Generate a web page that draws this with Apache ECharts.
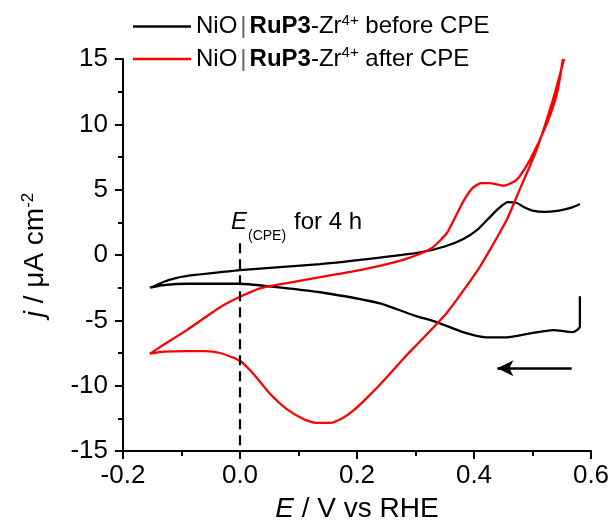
<!DOCTYPE html>
<html>
<head>
<meta charset="utf-8">
<script src="https://cdn.jsdelivr.net/npm/echarts@6/dist/echarts.min.js"></script>
<style>
  html, body { margin: 0; padding: 0; background: #fff; }
  #chart { width: 613px; height: 528px; }
</style>
</head>
<body>
<div id="chart"></div>
<script>
// E / V vs RHE, j / uA cm-2
const beforeCPE = [
  [0.581, -3.15], [0.581, -5.5], [0.569, -5.9], [0.535, -5.75], [0.496, -6.0],
  [0.456, -6.3], [0.422, -6.3], [0.381, -5.9], [0.337, -5.15], [0.296, -4.6],
  [0.239, -3.7], [0.137, -2.85], [0.05, -2.4], [0.0, -2.2], [-0.09, -2.2],
  [-0.13, -2.3], [-0.154, -2.5], [-0.142, -2.3], [-0.13, -2.05], [-0.113, -1.8],
  [-0.09, -1.6], [-0.04, -1.35], [0.0, -1.15], [0.137, -0.7], [0.239, -0.2],
  [0.308, 0.2], [0.35, 0.65], [0.381, 1.2], [0.405, 1.9], [0.425, 2.8],
  [0.443, 3.6], [0.458, 4.05], [0.472, 4.0], [0.486, 3.65], [0.5, 3.4],
  [0.52, 3.3], [0.545, 3.4], [0.565, 3.6], [0.581, 3.9]
];

const afterCPE = [
  [0.554, 15.0], [0.535, 11.9], [0.507, 8.05], [0.478, 5.0], [0.456, 2.7],
  [0.41, -0.9], [0.354, -4.4], [0.308, -6.6], [0.282, -7.8], [0.251, -9.35],
  [0.22, -10.8], [0.194, -11.9], [0.175, -12.5], [0.154, -12.85], [0.13, -12.85],
  [0.108, -12.55], [0.08, -11.8], [0.051, -10.6], [0.025, -9.2], [0.0, -8.1],
  [-0.034, -7.5], [-0.06, -7.35], [-0.091, -7.35], [-0.13, -7.4], [-0.154, -7.55],
  [-0.137, -7.05], [-0.091, -5.75], [-0.034, -4.0], [0.0, -3.2], [0.034, -2.55],
  [0.08, -2.15], [0.137, -1.7], [0.2, -1.2], [0.251, -0.7], [0.28, -0.35],
  [0.308, 0.1], [0.33, 0.6], [0.354, 1.7], [0.368, 2.9], [0.383, 4.2],
  [0.397, 5.1], [0.412, 5.5], [0.427, 5.5], [0.45, 5.3], [0.473, 5.75],
  [0.496, 7.3], [0.525, 10.1], [0.542, 12.4], [0.552, 15.0]
];

const seriesNames = ['before CPE', 'after CPE'];
const seriesColors = ['#000000', '#ff0000'];

// vertical dashed marker at E(CPE) and the scan-direction arrow
const cpeLine = [[0, 0.9], [0, -15]];
const scanArrow = [[0.567, -8.67], [0.44, -8.67]];

const FONT = '"Liberation Sans", Arial, sans-serif';

const chart = echarts.init(document.getElementById('chart'));

const axisCommon = {
  axisLine: { onZero: false, lineStyle: { color: '#000', width: 2 } },
  axisTick: { show: true, inside: false, length: 8, lineStyle: { color: '#000', width: 2 } },
  minorTick: { show: true, splitNumber: 2, length: 5, lineStyle: { color: '#000', width: 2 } },
  splitLine: { show: false },
  axisLabel: { color: '#000', fontSize: 26, fontFamily: FONT }
};

const nameRich = {
  i: { fontSize: 28, fontStyle: 'italic', fontFamily: FONT, color: '#000' },
  n: { fontSize: 28, fontFamily: FONT, color: '#000' },
  sup: { fontSize: 17, fontFamily: FONT, color: '#000', padding: [0, 0, 14, 0] }
};

const options = {
  animation: false,
  grid: { left: 123, right: 22, top: 59, bottom: 77, containLabel: false },
  legend: {
    orient: 'vertical',
    left: 133,
    top: 13,
    padding: 0,
    itemWidth: 58,
    itemHeight: 2.5,
    itemGap: 7,
    icon: 'rect',
    data: seriesNames,
    textStyle: {
      color: '#000',
      fontSize: 24,
      fontFamily: FONT,
      rich: {
        n: { fontSize: 24, fontFamily: FONT, color: '#000' },
        bar: { fontSize: 24, fontFamily: FONT, color: '#666', padding: [0, 3, 0, 3] },
        b: { fontSize: 24, fontFamily: FONT, fontWeight: 'bold', color: '#000' },
        sup: { fontSize: 15, fontFamily: FONT, color: '#000', padding: [0, 0, 12, 0] }
      }
    },
    formatter: (name) => `{n|NiO}{bar||}{b|RuP3}{n|-Zr}{sup|4+}{n| ${name}}`
  },
  xAxis: Object.assign({}, axisCommon, {
    type: 'value',
    min: -0.2,
    max: 0.6,
    interval: 0.2,
    name: '{i|E}{n| / V vs RHE}',
    nameLocation: 'middle',
    nameGap: 44,
    nameTextStyle: { rich: nameRich },
    axisLabel: Object.assign({}, axisCommon.axisLabel, {
      margin: 12,
      formatter: (v) => v.toFixed(1)
    })
  }),
  yAxis: Object.assign({}, axisCommon, {
    type: 'value',
    min: -15,
    max: 15,
    interval: 5,
    name: '{i|j}{n| / μA cm}{sup|-2}',
    nameLocation: 'middle',
    nameGap: 72,
    nameTextStyle: { rich: nameRich },
    axisLabel: Object.assign({}, axisCommon.axisLabel, { margin: 15 })
  }),
  graphic: [
    { type: 'text', left: 231, top: 210, style: { text: 'E', font: 'italic 24px ' + FONT, fill: '#000' } },
    { type: 'text', left: 248, top: 229, style: { text: '(CPE)', font: '14px ' + FONT, fill: '#000' } },
    { type: 'text', left: 294, top: 210, style: { text: 'for 4 h', font: '24px ' + FONT, fill: '#000' } }
  ],
  series: [
    {
      name: seriesNames[0],
      type: 'line',
      data: beforeCPE,
      symbol: 'none',
      showSymbol: false,
      smooth: 0.2,
      color: seriesColors[0],
      lineStyle: { color: seriesColors[0], width: 2.3 },
      markLine: {
        silent: true,
        label: { show: false },
        data: [
          [
            { coord: cpeLine[0], symbol: 'none', lineStyle: { type: [10, 6], color: '#000', width: 2.2 } },
            { coord: cpeLine[1], symbol: 'none' }
          ],
          [
            { coord: scanArrow[0], symbol: 'none', lineStyle: { type: 'solid', color: '#000', width: 2.5 } },
            { coord: scanArrow[1], symbol: 'arrow', symbolSize: [12, 16] }
          ]
        ]
      }
    },
    {
      name: seriesNames[1],
      type: 'line',
      data: afterCPE,
      symbol: 'none',
      showSymbol: false,
      smooth: 0.2,
      color: seriesColors[1],
      lineStyle: { color: seriesColors[1], width: 2.3 }
    }
  ]
};

chart.setOption(options);
</script>
</body>
</html>
